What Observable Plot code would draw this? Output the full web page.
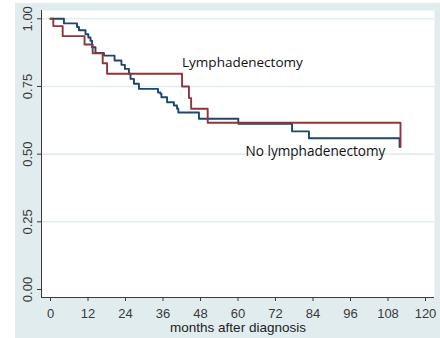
<!DOCTYPE html>
<html>
<head>
<meta charset="utf-8">
<script src="https://cdn.jsdelivr.net/npm/d3@7"></script>
<script src="https://cdn.jsdelivr.net/npm/@observablehq/plot@0.6"></script>
<style>
  html, body { margin: 0; padding: 0; background: #ffffff; }
  #chart { position: absolute; left: 15px; top: 3px; }
</style>
</head>
<body>
<div id="chart"></div>
<script>
// Kaplan–Meier survival estimates: time of each drop (months) and survival after it
const noLymphTimes = [4.3, 8.5, 9.1, 11.2, 12.1, 12.8, 13.3, 14.4, 17.1, 20.5, 22.7, 23.8, 25.1, 25.6, 26.7, 28.3, 34.4, 35.2, 35.5, 37.3, 39.5, 40.5, 40.9, 47.5, 60.1, 77.3, 82.7, 111.7];
const noLymphSurv  = [0.983, 0.970, 0.958, 0.943, 0.931, 0.919, 0.895, 0.874, 0.864, 0.846, 0.830, 0.815, 0.797, 0.778, 0.760, 0.741, 0.728, 0.723, 0.710, 0.692, 0.680, 0.668, 0.654, 0.631, 0.612, 0.584, 0.559, 0.526];

const lymphTimes = [0.9, 3.9, 10.9, 13.5, 16.7, 18.1, 42.1, 44.3, 45.0, 50.3, 112.0];
const lymphSurv  = [0.973, 0.936, 0.905, 0.873, 0.836, 0.797, 0.750, 0.707, 0.668, 0.616, 0.526];

const xTicks = [0, 12, 24, 36, 48, 60, 72, 84, 96, 108, 120];
const yTicks = [0, 0.25, 0.5, 0.75, 1];
const yTickLabels = ["0.00", "0.25", "0.50", "0.75", "1.00"];
const groupNames = ["Lymphadenectomy", "No lymphadenectomy"];

// Curve rows, each starting at (0, 1)
const curve = (group, times, surv) =>
  [{group, t: 0, s: 1}, ...times.map((t, i) => ({group, t, s: surv[i]}))];
const rows = [
  ...curve(groupNames[1], noLymphTimes, noLymphSurv),
  ...curve(groupNames[0], lymphTimes, lymphSurv)
];

const xDomain = [-2.88, 122.88];
const yDomain = [-0.0296, 1.0307];
const axisColor = "#3a3a3a";
const font = "'Liberation Sans', Arial, sans-serif";

const chart = Plot.plot({
  width: 425,
  height: 335,
  marginLeft: 26,
  marginRight: 6,
  marginTop: 7,
  marginBottom: 41,
  style: {background: "#e1ecef", fontFamily: font, color: axisColor},
  x: {domain: xDomain},
  y: {domain: yDomain},
  color: {domain: groupNames, range: ["#90353b", "#1a476f"]},
  marks: [
    Plot.frame({fill: "#ffffff", stroke: null}),
    Plot.ruleY(yTicks.filter(d => d > 0), {stroke: "#e3edf0", strokeWidth: 1.6}),
    Plot.ruleX([xDomain[0]], {stroke: axisColor, strokeWidth: 1}),
    Plot.ruleY([yDomain[0]], {stroke: axisColor, strokeWidth: 1}),
    Plot.axisX({ticks: xTicks, tickSize: 4, tickPadding: 7, fontSize: 13, stroke: axisColor, label: null}),
    Plot.axisY({ticks: yTicks, tickSize: 4, tickFormat: () => "", label: null, stroke: axisColor}),
    Plot.text(yTicks, {y: d => d, text: (d, i) => yTickLabels[i], frameAnchor: "left", rotate: -90,
      dx: -9.3, lineAnchor: "bottom", textAnchor: "middle", fontSize: 13, fill: axisColor}),
    Plot.text(["months after diagnosis"], {frameAnchor: "bottom", lineAnchor: "bottom", dy: 34,
      fontSize: 13.5, fill: "#222"}),
    Plot.line(rows, {x: "t", y: "s", z: "group", stroke: "group", curve: "step-after", strokeWidth: 1.9}),
    Plot.text([groupNames[0]], {x: 42.1, y: 0.821, text: d => d, textAnchor: "start", lineAnchor: "bottom",
      fontFamily: "'Open Sans', sans-serif", fontSize: 13.5, fill: "#111"}),
    Plot.text([groupNames[1]], {x: 62.4, y: 0.492, text: d => d, textAnchor: "start", lineAnchor: "bottom",
      fontFamily: "'Open Sans', sans-serif", fontSize: 13.6, fill: "#111"})
  ]
});
document.getElementById("chart").appendChild(chart);
</script>
</body>
</html>
